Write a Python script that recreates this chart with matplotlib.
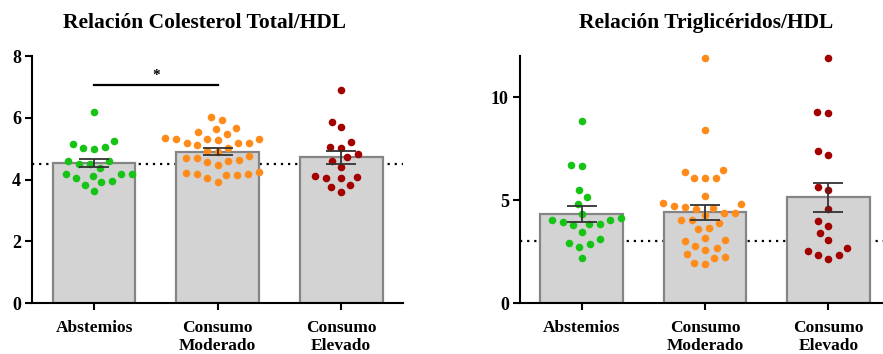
import matplotlib
matplotlib.use("Agg")
import matplotlib.pyplot as plt
import numpy as np

# Groups (x categories)
grupos = ["Abstemios", "Consumo\nModerado", "Consumo\nElevado"]

# Colesterol total / HDL: individual values per group
col_abstemios = [6.19, 5.14, 5.03, 4.99, 5.07, 5.24, 4.59, 4.51, 4.51, 4.59,
                 4.38, 4.18, 4.13, 4.17, 4.18, 3.91, 4.05, 3.97, 3.83, 3.64]
col_moderado = [6.04, 5.93, 5.63, 5.48, 5.66, 5.53, 5.31, 5.30, 5.28, 5.17, 5.31,
                5.36, 5.17, 5.17, 5.12, 5.03, 4.90, 4.93, 4.71, 4.63, 4.56, 4.47,
                4.60, 4.71, 4.77, 4.20, 4.17, 4.15, 3.93, 4.06, 4.15, 4.17, 4.24]
col_elevado = [6.89, 5.88, 5.69, 5.21, 5.04, 5.07, 4.83, 4.72, 4.61, 4.42,
               4.13, 4.06, 4.04, 4.10, 3.83, 3.75, 3.61]
col_media = [4.53, 4.91, 4.72]
col_sem = [0.13, 0.11, 0.22]
col_umbral = 4.5

# Triglicéridos / HDL: individual values per group
tg_abstemios = [8.87, 6.65, 6.73, 5.51, 5.14, 4.83, 4.33, 3.95, 3.84, 4.05,
                4.05, 4.13, 3.78, 3.84, 3.44, 2.92, 2.88, 3.11, 2.71, 2.19]
tg_moderado = [11.9, 8.40, 6.47, 6.06, 6.06, 6.06, 6.39, 5.21, 4.85, 4.40, 4.72,
               4.28, 4.56, 4.04, 4.64, 3.91, 4.69, 4.04, 4.40, 4.82, 3.67, 3.61,
               3.18, 3.06, 3.02, 2.70, 2.38, 2.59, 2.78, 2.18, 1.89, 1.97, 2.23]
tg_elevado = [11.9, 9.24, 9.29, 7.41, 7.20, 5.48, 5.64, 4.57, 3.73, 3.40,
              3.97, 3.08, 2.67, 2.32, 2.16, 2.32, 2.54]
tg_media = [4.34, 4.42, 5.14]
tg_sem = [0.39, 0.37, 0.71]
tg_umbral = 3.0

colores = ["#16c416", "#ff8c1a", "#a30000"]

plt.rcParams["font.family"] = ["Liberation Serif", "DejaVu Serif"]
plt.rcParams["font.weight"] = "bold"


def enjambre(ax, xc, valores, sep=11.0):
    """Beeswarm offsets (GraphPad-like spacing) computed in pixel space."""
    pts = ax.transData.transform(np.column_stack([np.full(len(valores), xc), valores]))
    x0, ypx = pts[0, 0], pts[:, 1]
    xs = np.zeros(len(valores))
    colocados = []
    for i in np.argsort(ypx):
        y = ypx[i]
        cerca = [(px, py) for px, py in colocados if abs(py - y) < sep]
        candidatos = [0.0]
        for px, py in cerca:
            dx = np.sqrt(sep ** 2 - (py - y) ** 2)
            candidatos += [px - dx, px + dx]
        for c in sorted(candidatos, key=abs):
            if all((c - px) ** 2 + (y - py) ** 2 >= sep ** 2 - 1e-6 for px, py in cerca):
                xs[i] = c
                break
        colocados.append((xs[i], y))
    datos = ax.transData.inverted().transform(np.column_stack([x0 + xs, ypx]))
    return datos[:, 0]


def panel(ax, valores, media, sem, umbral, titulo, titulo_x, ylim, yticks):
    x = np.arange(len(grupos))
    ax.set_xlim(-0.5, 2.5)
    ax.set_ylim(*ylim)

    ax.axhline(umbral, color="black", linestyle=(0, (1, 2.2)), linewidth=1.6, zorder=0)
    ax.bar(x, media, width=0.67, color="#d3d3d3", edgecolor="#858585",
           linewidth=1.6, zorder=1)
    for xc, vals, color in zip(x, valores, colores):
        ax.scatter(enjambre(ax, xc, vals), vals, s=30, color=color,
                   linewidths=0, zorder=3, clip_on=False)
    ax.errorbar(x, media, yerr=sem, fmt="none", ecolor="#333333",
                elinewidth=1.3, capsize=11, capthick=1.3, zorder=4)

    ax.set_yticks(yticks)
    ax.set_xticks(x)
    ax.set_xticklabels(grupos, fontsize=12.5, fontweight="bold", linespacing=1.15)
    ax.set_title(titulo, fontsize=15.5, fontweight="bold", pad=20, x=titulo_x)
    for lado in ["top", "right"]:
        ax.spines[lado].set_visible(False)
    for lado in ["left", "bottom"]:
        ax.spines[lado].set_linewidth(1.5)
    ax.tick_params(axis="y", length=5, width=1.5, labelsize=13, pad=3)
    ax.tick_params(axis="x", length=5, width=1.5, pad=7)
    for lbl in ax.get_yticklabels():
        lbl.set_fontweight("bold")


fig = plt.figure(figsize=(8.83, 3.54), dpi=100)
ax1 = fig.add_axes([0.0366, 0.1432, 0.4198, 0.6986])
ax2 = fig.add_axes([0.5889, 0.1432, 0.419, 0.6986])

panel(ax1, [col_abstemios, col_moderado, col_elevado], col_media, col_sem,
      col_umbral, "Relación Colesterol Total/HDL", 0.465, (0, 8), [0, 2, 4, 6, 8])
panel(ax2, [tg_abstemios, tg_moderado, tg_elevado], tg_media, tg_sem,
      tg_umbral, "Relación Triglicéridos/HDL", 0.503, (0, 12), [0, 5, 10])

# significance bracket between Abstemios and Consumo Moderado
ax1.plot([0, 1], [7.05, 7.05], color="black", linewidth=1.6)
ax1.text(0.5, 7.38, "*", ha="center", va="center", fontsize=11, fontweight="bold")

fig.savefig("out.png", dpi=100)
